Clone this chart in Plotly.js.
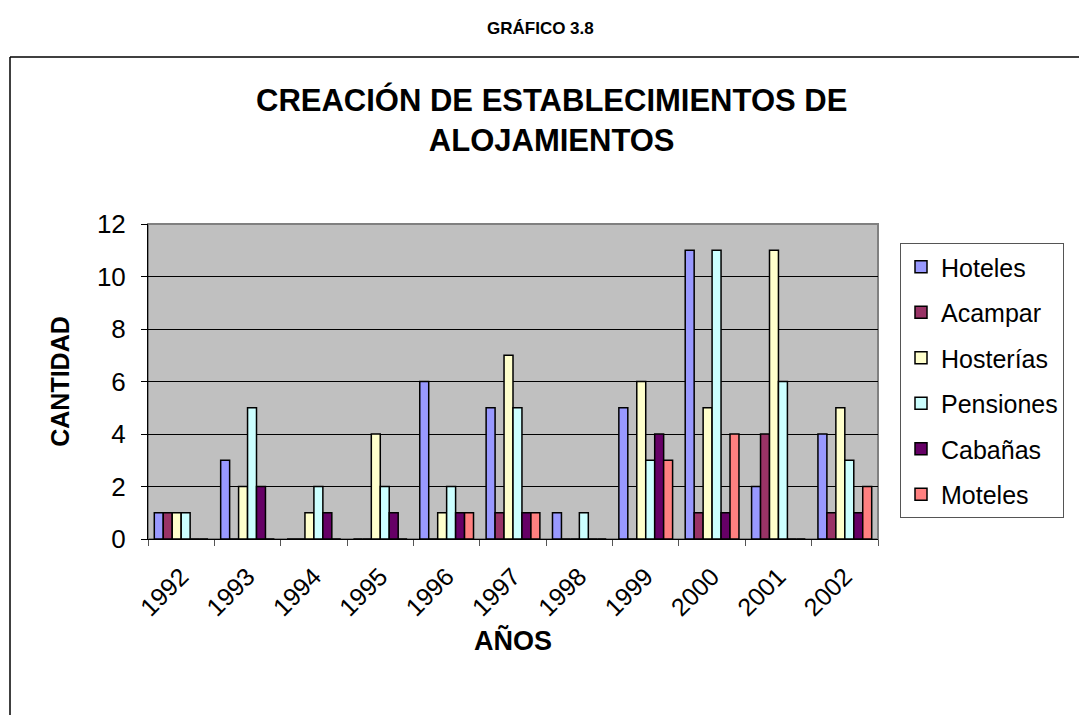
<!DOCTYPE html>
<html>
<head>
<meta charset="utf-8">
<script src="https://cdn.plot.ly/plotly-3.0.1.min.js"></script>
<style>html,body{margin:0;padding:0;background:#fff;}#chart{width:1079px;height:715px;}</style>
</head>
<body>
<div id="chart"></div>
<script>
const years = ['1992','1993','1994','1995','1996','1997','1998','1999','2000','2001','2002'];
const hoteles   = [1,3,0,0,6,5,1,5,11,2,4];
const acampar   = [1,0,0,0,0,1,0,0,1,4,1];
const hosterias = [1,2,1,4,1,7,0,6,5,11,5];
const pensiones = [1,5,2,2,2,5,1,3,11,6,3];
const cabanas   = [0,2,1,1,1,1,0,4,1,0,1];
const moteles   = [0,0,0,0,1,1,0,3,4,0,2];
const seriesNames = ['Hoteles','Acampar','Hosterías','Pensiones','Cabañas','Moteles'];
const seriesColors = ['#9999FF','#993366','#FFFFCC','#CCFFFF','#660066','#FF8080'];
const seriesValues = [hoteles, acampar, hosterias, pensiones, cabanas, moteles];

const FONT = 'Liberation Sans, Arial, sans-serif';

const traces = seriesValues.map((vals, i) => ({
  type: 'bar',
  name: seriesNames[i],
  legendgroup: 'g' + i,
  x: years,
  y: vals,
  marker: {color: seriesColors[i], line: {color: '#000', width: 1.5}}
}));

const L = 148, R = 878, T = 224, B = 539, W = 1079, H = 715;
const px = x => (x - L) / (R - L);
const py = y => (B - y) / (B - T);

const layout = {
  width: W, height: H,
  margin: {l: L, r: W - R, t: T, b: H - B, pad: 0},
  paper_bgcolor: '#fff',
  plot_bgcolor: '#C0C0C0',
  barmode: 'group',
  bargap: 0.19,
  bargroupgap: 0,
  showlegend: true,
  font: {family: FONT, color: '#000'},
  xaxis: {
    type: 'category',
    tickson: 'boundaries',
    ticks: 'outside', ticklen: 6, tickcolor: '#555', tickwidth: 1,
    tickangle: -45,
    tickfont: {size: 25, family: FONT},
    ticklabelstandoff: 12,
    showline: true, linecolor: '#000', linewidth: 1,
    showgrid: false, zeroline: false,
    title: {text: '<b>AÑOS</b>', font: {size: 27, family: FONT}, standoff: 10}
  },
  yaxis: {
    range: [0, 12], dtick: 2, tick0: 0,
    ticks: 'outside', ticklen: 6, tickcolor: '#000',
    tickfont: {size: 26, family: FONT},
    ticklabelstandoff: 10,
    showline: true, linecolor: '#000', linewidth: 1,
    showgrid: true, gridcolor: '#000', gridwidth: 1,
    zeroline: false,
    title: {text: '<b>CANTIDAD</b>', font: {size: 25, family: FONT}, standoff: 20}
  },
  legend: {
    x: px(900), y: py(243), xanchor: 'left', yanchor: 'top',
    bgcolor: '#fff', bordercolor: '#555', borderwidth: 1,
    font: {size: 25, family: FONT},
    tracegroupgap: 10
  },
  shapes: [
    {type: 'rect', xref: 'paper', yref: 'paper', x0: 0, x1: 1, y0: 0, y1: 1,
     line: {color: '#808080', width: 2}, layer: 'below'},
    {type: 'line', xref: 'paper', yref: 'paper', x0: px(10), x1: px(1085), y0: py(57), y1: py(57),
     line: {color: '#000', width: 1.5}},
    {type: 'line', xref: 'paper', yref: 'paper', x0: px(10), x1: px(10), y0: py(57), y1: py(720),
     line: {color: '#000', width: 1.5}}
  ],
  annotations: [
    {xref: 'paper', yref: 'paper', x: px(551), y: py(120),
     text: '<b>CREACIÓN DE ESTABLECIMIENTOS DE<br>ALOJAMIENTOS</b>',
     showarrow: false, font: {size: 31, family: FONT}, xanchor: 'center', yanchor: 'middle',
     align: 'center'},
    {xref: 'paper', yref: 'paper', x: px(540), y: py(28), text: '<b>GRÁFICO 3.8</b>',
     showarrow: false, font: {size: 17, family: FONT}, xanchor: 'center', yanchor: 'middle'}
  ]
};

Plotly.newPlot('chart', traces, layout, {displayModeBar: false, staticPlot: true});
</script>
</body>
</html>
